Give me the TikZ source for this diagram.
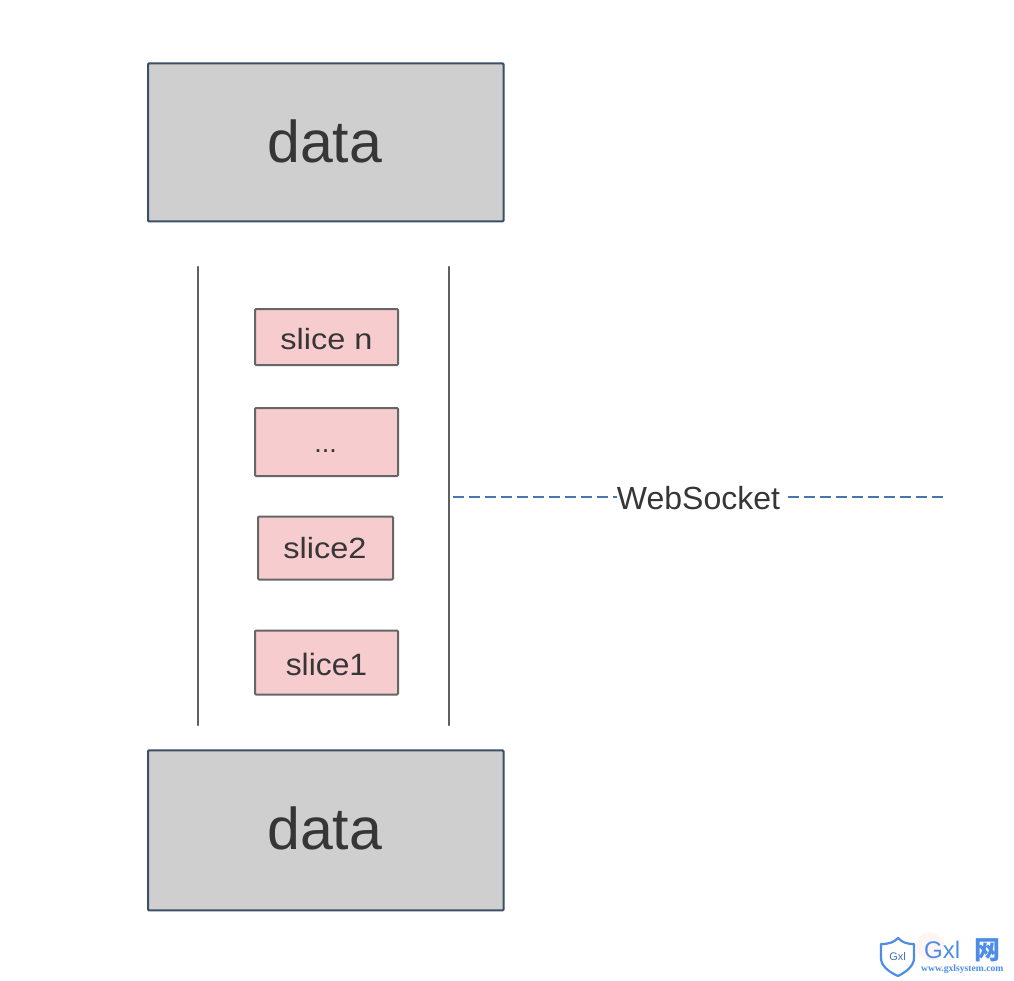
\documentclass[tikz,border=0pt]{standalone}
\usepackage{fontspec}
\setmainfont{Liberation Sans}
\newfontfamily\cjk{Noto Sans CJK SC}
\newfontfamily\wmserif{Liberation Serif}
\definecolor{datafill}{HTML}{CFCFCF}
\definecolor{dataline}{HTML}{3B4F66}
\definecolor{slicefill}{HTML}{F7CCCE}
\definecolor{sliceline}{HTML}{666666}
\definecolor{railline}{HTML}{5F5F5F}
\definecolor{txt}{HTML}{363636}
\definecolor{wslink}{HTML}{4A76B0}
\definecolor{wm}{HTML}{4D8DE8}
\tikzset{
  x=1pt,y=-1pt,
  databox/.style={draw=dataline,line width=2pt,fill=datafill,rounded corners=1pt,inner sep=0pt,text=txt,font=\fontsize{59}{60}\selectfont},
  slicebox/.style={draw=sliceline,line width=2pt,fill=slicefill,rounded corners=1pt,inner sep=0pt,text=txt,font=\fontsize{32.5}{34}\selectfont},
  rail/.style={draw=railline,line width=2.2pt,line cap=round},
  wslinkstyle/.style={draw=wslink,line width=1.6pt,dash pattern=on 11pt off 5pt},
}
\newcommand{\boxat}[7]{%
  \node[#1,minimum width=#4pt,minimum height=#5pt] (#2) at (#3,#6) {#7};}
\newcommand{\base}[2]{\raisebox{#1}[0pt][0pt]{#2}}
\begin{document}
\begin{tikzpicture}
\useasboundingbox (0,0) rectangle (1014,980);
\fill[white] (0,0) rectangle (1014,980);
\boxat{databox}{top}{325.75}{355.5}{158}{142.4}{\base{-19.6pt}{data}\hspace*{2pt}}
\boxat{databox}{bottom}{325.75}{355.5}{160}{830.4}{\base{-18.6pt}{data}\hspace*{2pt}}
\boxat{slicebox}{sn}{326.5}{143}{56}{337}{\base{-12.5pt}{\scalebox{1}[0.9]{slice n}}}
\boxat{slicebox}{dots}{326.5}{143}{68}{442}{\base{-10.2pt}{\fontsize{27}{27}\selectfont ...}\hspace*{2pt}}
\boxat{slicebox}{s2}{325.5}{135}{63}{548}{\base{-10pt}{\scalebox{1}[0.9]{slice2}}\hspace*{1pt}}
\boxat{slicebox}{s1}{326.5}{143}{64}{662.5}{\base{-12.5pt}{\scalebox{0.98}[0.95]{slice1}}}
\coordinate (lt) at (197.7,267); \coordinate (lb) at (197.7,725);
\coordinate (rt) at (449.3,267); \coordinate (rb) at (449.3,725);
\draw[rail] (lt) -- (lb);
\draw[rail] (rt) -- (rb);
\coordinate (wsa) at (453,497); \coordinate (wsb) at (948,497);
\node[text=txt,font=\fontsize{32}{34}\selectfont,inner sep=0pt,anchor=center] (ws) at (698.5,498) {WebSocket};
\draw[wslinkstyle] (wsa) -- (ws.west |- wsa);
\draw[wslinkstyle] (ws.east |- wsb) ++(8,0) -- (wsb);
% watermark
\fill[red!4] (930,946) circle (14);
\draw[wm,line width=2.2pt,fill=white,line join=round] (881,944) .. controls (890,944) and (894,942) .. (898,938) .. controls (902,942) and (906,944) .. (914,944) -- (914,958) .. controls (914,966) and (906,972) .. (898,976) .. controls (889,972) and (881,966) .. (881,958) -- cycle;
\node[text=wm!80!black,font=\fontsize{11}{11}\selectfont,inner sep=0pt] (wma) at (897.5,957) {Gxl};
\node[text=wm,font=\fontsize{24}{25}\selectfont,inner sep=0pt,anchor=west] (wmb) at (924,950) {Gxl};
\node[text=wm,font=\cjk\bfseries\fontsize{26}{26}\selectfont,inner sep=0pt,anchor=center] (wmc) at (987,950) {网};
\node[text=wm,font=\wmserif\bfseries\fontsize{9.6}{10}\selectfont,inner sep=0pt,anchor=west] (wmd) at (921,969) {www.gxlsystem.com};
\end{tikzpicture}
\end{document}
